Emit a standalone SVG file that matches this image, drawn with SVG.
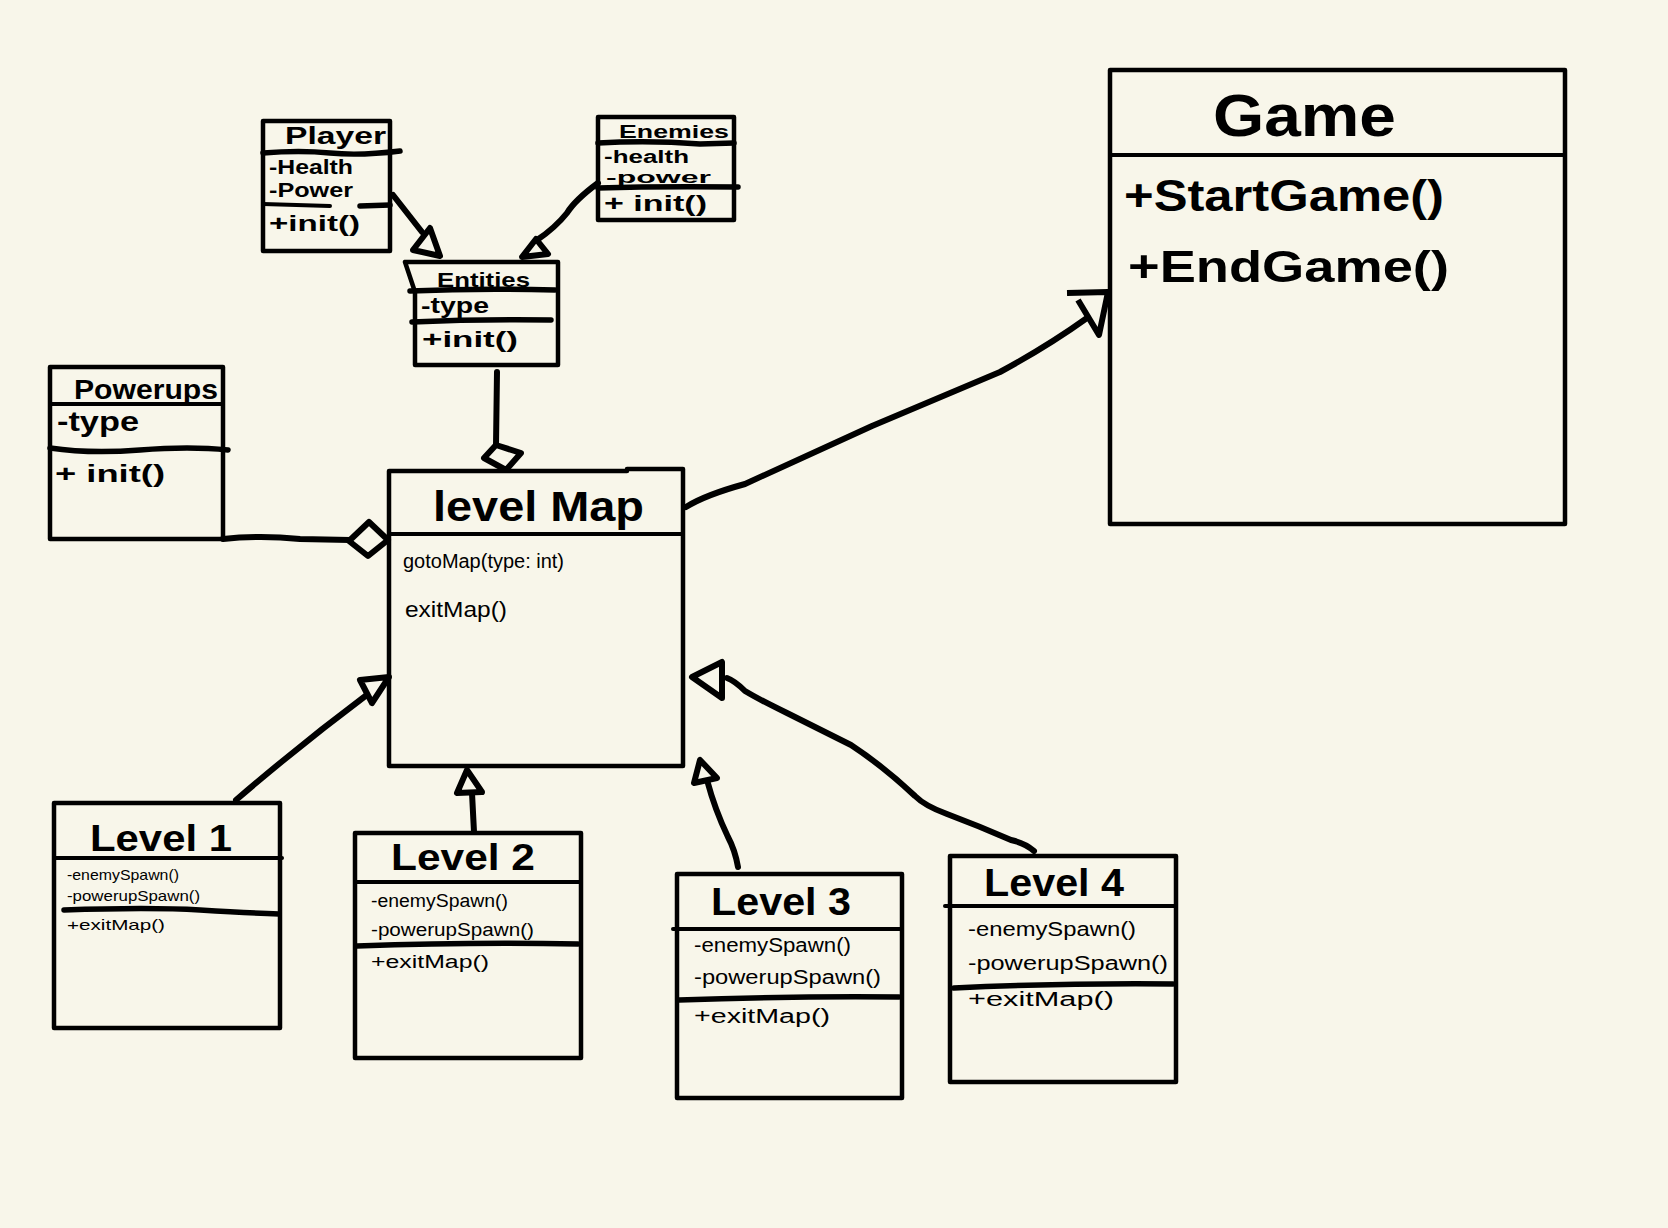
<svg xmlns="http://www.w3.org/2000/svg" width="1668" height="1228" viewBox="0 0 1668 1228">
<style>
.box{fill:none;stroke:#000;stroke-width:4.5;stroke-linejoin:round}
.dv{fill:none;stroke:#000;stroke-width:4;stroke-linecap:round}
.dvt{fill:none;stroke:#000;stroke-width:5.5;stroke-linecap:round}
.conn{fill:none;stroke:#000;stroke-width:6;stroke-linecap:round;stroke-linejoin:round}
.head{fill:#F8F6EA;stroke:#000;stroke-width:6;stroke-linejoin:round}
text{font-family:"Liberation Sans","DejaVu Sans",sans-serif;fill:#000}
.t{font-weight:bold}
.m{font-weight:bold}
.n{font-weight:normal}
</style>
<rect width="1668" height="1228" fill="#F8F6EA"/>

<g id="game">
<rect class="box" x="1110" y="70" width="455" height="454"/>
<line class="dv" x1="1110" y1="155" x2="1565" y2="155"/>
<text class="t" x="1213" y="136" font-size="60" textLength="183" lengthAdjust="spacingAndGlyphs">Game</text>
<text class="m" x="1124" y="211" font-size="44" textLength="320" lengthAdjust="spacingAndGlyphs">+StartGame()</text>
<text class="m" x="1128" y="282" font-size="44" textLength="321" lengthAdjust="spacingAndGlyphs">+EndGame()</text>
</g>

<g id="player">
<rect class="box" x="263" y="121" width="127" height="130"/>
<path class="dvt" d="M263 153 Q300 150 330 153 T400 151"/>
<path class="dv" d="M263 204 L330 206"/><path class="dvt" d="M360 206 L390 205"/>
<text class="t" x="285" y="144" font-size="24" textLength="101" lengthAdjust="spacingAndGlyphs">Player</text>
<text class="m" x="269" y="174" font-size="21" textLength="84" lengthAdjust="spacingAndGlyphs">-Health</text>
<text class="m" x="269" y="197" font-size="21" textLength="84" lengthAdjust="spacingAndGlyphs">-Power</text>
<text class="m" x="269" y="231" font-size="22" textLength="91" lengthAdjust="spacingAndGlyphs">+init()</text>
</g>

<g id="enemies">
<rect class="box" x="598" y="117" width="136" height="103"/>
<path class="dvt" d="M598 143 Q650 140 700 144 L734 143"/>
<path class="dvt" d="M598 188 Q660 186 738 187"/>
<text class="t" x="619" y="138" font-size="19" textLength="110" lengthAdjust="spacingAndGlyphs">Enemies</text>
<text class="m" x="604" y="163" font-size="18" textLength="85" lengthAdjust="spacingAndGlyphs">-health</text>
<text class="m" x="606" y="183" font-size="17" textLength="105" lengthAdjust="spacingAndGlyphs">-power</text>
<text class="m" x="604" y="211" font-size="22" textLength="103" lengthAdjust="spacingAndGlyphs">+ init()</text>
</g>

<g id="entities">
<path class="box" d="M405 262 L558 262 L558 365 L415 365 L415 292 Z"/>
<path class="dvt" d="M410 291 Q480 288 555 290"/>
<path class="dvt" d="M412 322 Q480 319 551 320"/>
<text class="t" x="437" y="287" font-size="21" textLength="93" lengthAdjust="spacingAndGlyphs">Entities</text>
<text class="m" x="421" y="313" font-size="22" textLength="68" lengthAdjust="spacingAndGlyphs">-type</text>
<text class="m" x="422" y="347" font-size="22" textLength="96" lengthAdjust="spacingAndGlyphs">+init()</text>
</g>

<g id="powerups">
<rect class="box" x="50" y="367" width="173" height="172"/>
<line class="dv" x1="50" y1="404" x2="223" y2="404"/>
<path class="dvt" d="M50 448 Q90 454 140 450 T228 450"/>
<text class="t" x="74" y="399" font-size="27" textLength="144" lengthAdjust="spacingAndGlyphs">Powerups</text>
<text class="m" x="57" y="431" font-size="28" textLength="82" lengthAdjust="spacingAndGlyphs">-type</text>
<text class="m" x="55" y="482" font-size="24" textLength="110" lengthAdjust="spacingAndGlyphs">+ init()</text>
</g>

<g id="levelmap">
<path class="box" d="M389 471 L627 471 L627 469 L683 469 L683 766 L389 766 Z"/>
<line class="dv" x1="389" y1="534" x2="683" y2="534"/>
<text class="t" x="433" y="521" font-size="42" textLength="211" lengthAdjust="spacingAndGlyphs">level  Map</text>
<text class="n" x="403" y="568" font-size="20" textLength="161" lengthAdjust="spacingAndGlyphs">gotoMap(type: int)</text>
<text class="n" x="405" y="617" font-size="22" textLength="102" lengthAdjust="spacingAndGlyphs">exitMap()</text>
</g>

<g id="level1">
<rect class="box" x="54" y="803" width="226" height="225"/>
<line class="dv" x1="54" y1="858" x2="282" y2="858"/>
<path class="dvt" d="M64 910 Q150 907 200 910 T279 914"/>
<text class="t" x="90" y="851" font-size="36" textLength="142" lengthAdjust="spacingAndGlyphs">Level  1</text>
<text class="n" x="67" y="880" font-size="15" textLength="112" lengthAdjust="spacingAndGlyphs">-enemySpawn()</text>
<text class="n" x="67" y="901" font-size="15" textLength="133" lengthAdjust="spacingAndGlyphs">-powerupSpawn()</text>
<text class="n" x="67" y="930" font-size="15" textLength="98" lengthAdjust="spacingAndGlyphs">+exitMap()</text>
</g>

<g id="level2">
<rect class="box" x="355" y="833" width="226" height="225"/>
<line class="dv" x1="355" y1="882" x2="581" y2="882"/>
<path class="dvt" d="M357 946 Q470 942 578 944"/>
<text class="t" x="391" y="870" font-size="36" textLength="144" lengthAdjust="spacingAndGlyphs">Level  2</text>
<text class="n" x="371" y="907" font-size="18" textLength="137" lengthAdjust="spacingAndGlyphs">-enemySpawn()</text>
<text class="n" x="371" y="936" font-size="18" textLength="163" lengthAdjust="spacingAndGlyphs">-powerupSpawn()</text>
<text class="n" x="371" y="968" font-size="18" textLength="118" lengthAdjust="spacingAndGlyphs">+exitMap()</text>
</g>

<g id="level3">
<rect class="box" x="677" y="874" width="225" height="224"/>
<line class="dv" x1="673" y1="929" x2="902" y2="929"/>
<path class="dvt" d="M679 1000 Q790 996 899 997"/>
<text class="t" x="711" y="915" font-size="38" textLength="140" lengthAdjust="spacingAndGlyphs">Level  3</text>
<text class="n" x="694" y="952" font-size="20" textLength="157" lengthAdjust="spacingAndGlyphs">-enemySpawn()</text>
<text class="n" x="694" y="984" font-size="20" textLength="187" lengthAdjust="spacingAndGlyphs">-powerupSpawn()</text>
<text class="n" x="694" y="1023" font-size="20" textLength="136" lengthAdjust="spacingAndGlyphs">+exitMap()</text>
</g>

<g id="level4">
<rect class="box" x="950" y="856" width="226" height="226"/>
<line class="dv" x1="945" y1="906" x2="1176" y2="906"/>
<path class="dvt" d="M954 988 Q1060 983 1173 984"/>
<text class="t" x="984" y="896" font-size="38" textLength="140" lengthAdjust="spacingAndGlyphs">Level  4</text>
<text class="n" x="968" y="936" font-size="20" textLength="168" lengthAdjust="spacingAndGlyphs">-enemySpawn()</text>
<text class="n" x="968" y="970" font-size="20" textLength="200" lengthAdjust="spacingAndGlyphs">-powerupSpawn()</text>
<text class="n" x="968" y="1006" font-size="20" textLength="146" lengthAdjust="spacingAndGlyphs">+exitMap()</text>
</g>

<g id="connectors">
<!-- Player -> Entities -->
<path class="conn" d="M393 195 L422 232"/>
<path class="head" d="M413 250 L430 228 L440 256 Z"/>
<!-- Enemies -> Entities -->
<path class="conn" d="M598 183 Q575 200 567 213 Q555 228 537 240"/>
<path class="head" d="M522 257 L536 239 L548 254 Z"/>
<!-- Entities -> Level Map (aggregation) -->
<path class="conn" d="M497 372 L496 445"/>
<path class="head" d="M496 445 L521 453 L506 470 L484 458 Z"/>
<!-- Powerups -> Level Map (aggregation) -->
<path class="conn" d="M223 539 Q260 535 300 539 L350 540"/>
<path class="head" d="M349 541 L369 522 L388 540 L368 556 Z"/>
<!-- Level Map -> Game -->
<path class="conn" d="M686 507 Q705 495 745 484 Q808 455 872 426 Q936 399 1000 372 Q1048 346 1087 318"/>
<path class="head" d="M1067 293 L1108 292 L1099 335 L1078 300"/>
<!-- Level 1 -> Level Map -->
<path class="conn" d="M236 800 Q300 745 368 694"/>
<path class="head" d="M360 680 L389 677 L372 703 Z"/>
<!-- Level 2 -> Level Map -->
<path class="conn" d="M474 832 L472 793"/>
<path class="head" d="M467 770 L457 793 L482 792 Z"/>
<!-- Level 3 -> Level Map -->
<path class="conn" d="M738 867 Q735 850 728 837 Q715 810 707 780"/>
<path class="head" d="M700 760 L694 783 L717 778 Z"/>
<!-- Level 4 -> Level Map -->
<path class="conn" d="M1034 851 Q1025 843 1011 840 Q979 826 947 814 Q925 806 915 796 Q883 766 851 745 Q819 729 787 713 Q760 700 745 691 Q735 681 727 678"/>
<path class="head" d="M692 677 L722 662 L722 698 Z"/>
</g>
</svg>
